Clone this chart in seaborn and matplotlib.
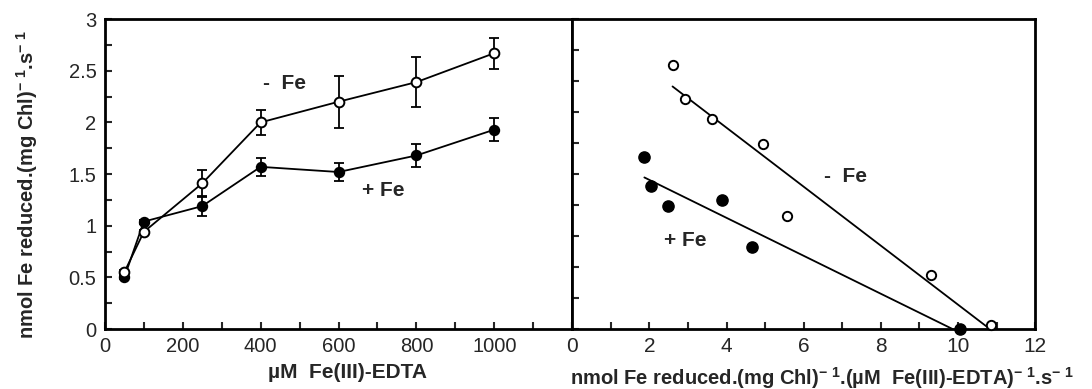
import numpy as np
import matplotlib
matplotlib.use('Agg')
import matplotlib.pyplot as plt
import seaborn as sns
from matplotlib.ticker import MultipleLocator

# Fe(III)-EDTA concentration series (left panel)
conc = [50, 100, 250, 400, 600, 800, 1000]
rate_minus_fe = [0.55, 0.94, 1.41, 2.00, 2.20, 2.39, 2.67]
err_minus_fe = [0.02, 0.02, 0.13, 0.12, 0.25, 0.24, 0.15]
rate_plus_fe = [0.50, 1.04, 1.19, 1.57, 1.52, 1.68, 1.93]
err_plus_fe = [0.02, 0.02, 0.10, 0.09, 0.09, 0.11, 0.11]

# linearised plot (right panel)
ratio_minus_fe = [2.60, 2.93, 3.63, 4.95, 5.56, 9.31, 10.86]
v_minus_fe = [2.56, 2.23, 2.03, 1.79, 1.09, 0.52, 0.04]
ratio_plus_fe = [1.87, 2.04, 2.48, 3.87, 4.67, 10.04]
v_plus_fe = [1.67, 1.38, 1.19, 1.25, 0.79, 0.0]

sns.set_style('ticks')
plt.rcParams['font.family'] = ['Liberation Sans', 'DejaVu Sans']
plt.rcParams['mathtext.fontset'] = 'custom'
plt.rcParams['mathtext.rm'] = 'Liberation Sans'
plt.rcParams['mathtext.bf'] = 'Liberation Sans:bold'
plt.rcParams['mathtext.default'] = 'bf'

fig = plt.figure(figsize=(10.92, 3.89), dpi=100)
ax1 = fig.add_axes([0.096, 0.154, 0.428, 0.797])
ax2 = fig.add_axes([0.524, 0.154, 0.424, 0.797])

lw = 1.3

# left panel: rate vs concentration
ax1.errorbar(conc, rate_plus_fe, yerr=err_plus_fe, fmt='none', ecolor='black',
             elinewidth=lw, capsize=3.5, capthick=lw, zorder=1)
ax1.errorbar(conc, rate_minus_fe, yerr=err_minus_fe, fmt='none', ecolor='black',
             elinewidth=lw, capsize=3.5, capthick=lw, zorder=1)
sns.lineplot(x=conc, y=rate_plus_fe, ax=ax1, color='black', lw=lw, marker='o',
             markersize=7, markerfacecolor='black', markeredgecolor='black',
             markeredgewidth=1.2, clip_on=False)
sns.lineplot(x=conc, y=rate_minus_fe, ax=ax1, color='black', lw=lw, marker='o',
             markersize=7, markerfacecolor='white', markeredgecolor='black',
             markeredgewidth=1.4, clip_on=False)

ax1.set_xlim(0, 1200)
ax1.set_ylim(0, 3)
ax1.xaxis.set_minor_locator(MultipleLocator(100))
ax1.yaxis.set_minor_locator(MultipleLocator(0.25))
ax1.set_xticks([0, 200, 400, 600, 800, 1000])
ax1.set_yticks([0, 0.5, 1, 1.5, 2, 2.5, 3])
ax1.set_yticklabels(['0', '0.5', '1', '1.5', '2', '2.5', '3'])
ax1.text(462, 2.38, '-  Fe', ha='center', va='center', fontsize=15, fontweight='bold')
ax1.text(715, 1.34, '+ Fe', ha='center', va='center', fontsize=15, fontweight='bold')

ax1.set_xlabel('\u00b5M  Fe(III)-EDTA', fontsize=15, fontweight='bold')
ax1.xaxis.set_label_coords(0.52, -0.139)
ax1.xaxis.label.set_va('center')
ax1.set_ylabel('nmol Fe reduced.(mg Chl)$^{-\\ 1}$.s$^{-\\ 1}$', fontsize=14.5, fontweight='bold')
ax1.yaxis.set_label_coords(-0.167, 0.465)
ax1.yaxis.label.set_va('center')

# right panel: linearised data with regression lines
sns.regplot(x=ratio_minus_fe, y=v_minus_fe, ax=ax2, scatter=False, ci=None,
            truncate=True, line_kws=dict(color='black', lw=lw))
sns.regplot(x=ratio_plus_fe, y=v_plus_fe, ax=ax2, scatter=False, ci=None,
            truncate=True, line_kws=dict(color='black', lw=lw))
sns.scatterplot(x=ratio_minus_fe, y=v_minus_fe, ax=ax2, s=45, color='white',
                edgecolor='black', linewidth=1.4, zorder=3, clip_on=False)
sns.scatterplot(x=ratio_plus_fe, y=v_plus_fe, ax=ax2, s=65, color='black',
                edgecolor='black', linewidth=1, zorder=3, clip_on=False)

ax2.set_xlim(0, 12)
ax2.set_ylim(0, 3)
ax2.xaxis.set_major_locator(MultipleLocator(2))
ax2.xaxis.set_minor_locator(MultipleLocator(1))
ax2.yaxis.set_major_locator(MultipleLocator(0.3))
ax2.text(7.09, 1.48, '-  Fe', ha='center', va='center', fontsize=15, fontweight='bold')
ax2.text(2.93, 0.86, '+ Fe', ha='center', va='center', fontsize=15, fontweight='bold')
ax2.set_xlabel('nmol Fe reduced.(mg Chl)$^{-\\ 1}$.(\u00b5M  Fe(III)-EDTA)$^{-\\ 1}$.s$^{-\\ 1}$',
               fontsize=14.5, fontweight='bold', loc='left')
ax2.xaxis.set_label_coords(-0.004, -0.158)
ax2.xaxis.label.set_va('center')
ax2.xaxis.label.set_ha('left')

for ax in (ax1, ax2):
    ax.tick_params(which='both', direction='in', length=5, width=1.5, labelsize=14.5,
                   top=False, right=False, pad=6)
    for s in ax.spines.values():
        s.set_linewidth(2)
        s.set_color('black')
ax2.tick_params(axis='y', labelleft=False)
ax2.tick_params(axis='x', labelsize=15)

fig.savefig('out.png', dpi=100)
